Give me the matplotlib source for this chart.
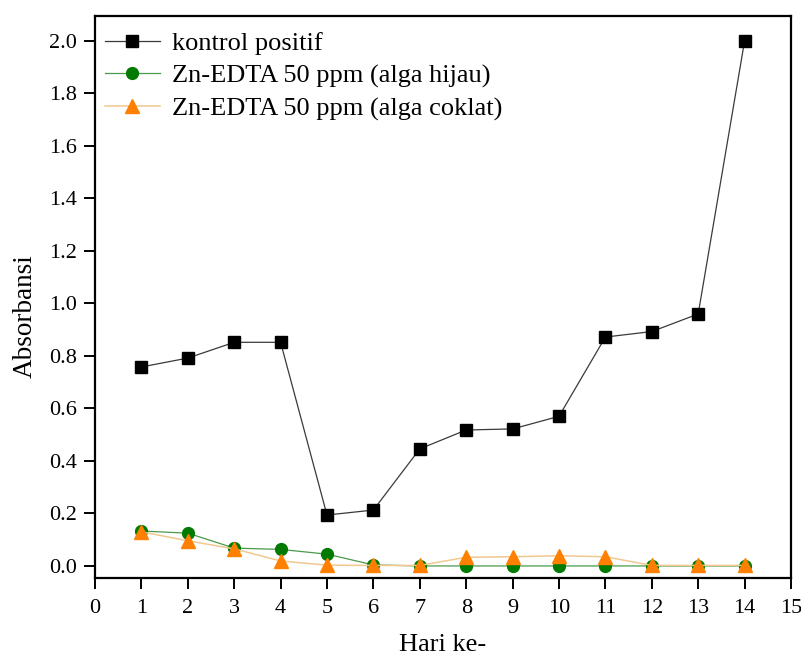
import matplotlib
matplotlib.use("Agg")
import matplotlib.pyplot as plt

days = [1, 2, 3, 4, 5, 6, 7, 8, 9, 10, 11, 12, 13, 14]
kontrol = [0.758, 0.792, 0.852, 0.852, 0.194, 0.213, 0.446, 0.518, 0.522, 0.570, 0.872, 0.893, 0.960, 2.000]
hijau = [0.133, 0.125, 0.068, 0.063, 0.045, 0.004, 0.0, 0.0, 0.0, 0.0, 0.0, 0.0, 0.0, 0.0]
coklat = [0.130, 0.096, 0.065, 0.019, 0.003, 0.002, 0.002, 0.033, 0.035, 0.039, 0.035, 0.002, 0.002, 0.002]
labels = ["kontrol positif", "Zn-EDTA 50 ppm (alga hijau)", "Zn-EDTA 50 ppm (alga coklat)"]

plt.rcParams['font.family'] = ['Liberation Serif', 'DejaVu Serif']

fig = plt.figure(figsize=(8.01, 6.57), dpi=100)
ax = fig.add_axes([0.1186, 0.1202, 0.8689, 0.8554])

ax.plot(days, kontrol, color='#3a3a3a', lw=0.9, marker='s', ms=8,
        mfc='black', mec='black', label=labels[0])
ax.plot(days, hijau, color='#4a9a4a', lw=0.9, marker='o', ms=8.5,
        mfc='#007a00', mec='#007a00', label=labels[1])
ax.plot(days, coklat, color='#f0c890', lw=1.1, marker='^', ms=9.5,
        mfc='#ff8000', mec='#ff8000', label=labels[2])

ax.set_xlim(0, 15)
ax.set_ylim(-0.046, 2.095)
ax.set_xticks(range(0, 16))
ax.set_yticks([0.0, 0.2, 0.4, 0.6, 0.8, 1.0, 1.2, 1.4, 1.6, 1.8, 2.0])
ax.set_yticklabels([f"{v:.1f}" for v in ax.get_yticks()])

for s in ax.spines.values():
    s.set_linewidth(1.6)
ax.tick_params(axis='both', direction='out', length=8, width=1.4, labelsize=16)
ax.tick_params(axis='x', pad=7)
ax.tick_params(axis='y', pad=5)

ax.set_xlabel("Hari ke-", fontsize=19)
ax.set_ylabel("Absorbansi", fontsize=19.5)
ax.xaxis.set_label_coords(0.5, -0.1)
ax.yaxis.set_label_coords(-0.082, 0.466)

ax.legend(loc='upper left', frameon=False, fontsize=19, handlelength=2.1,
          handletextpad=0.45, labelspacing=0.33, borderaxespad=0.2,
          bbox_to_anchor=(-0.009, 1.0))

fig.savefig("out.png", dpi=100)
